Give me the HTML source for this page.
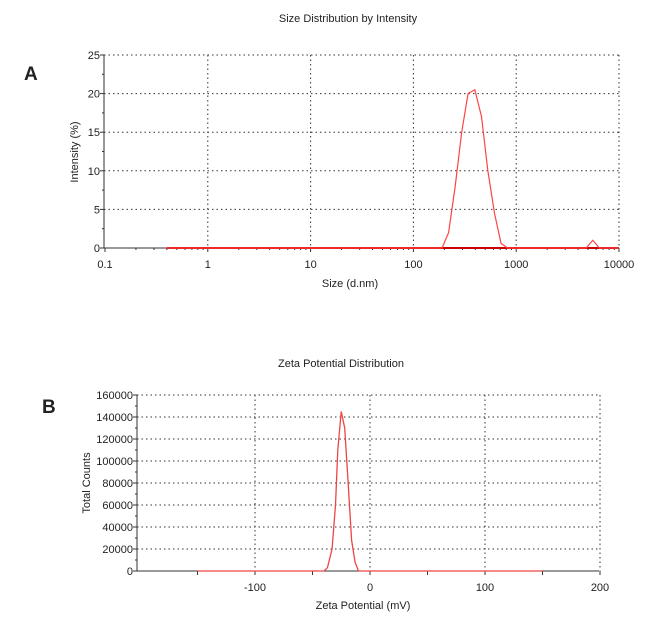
<!DOCTYPE html>
<html><head><meta charset="utf-8"><style>
body{margin:0;background:#fff;}
svg text{font-family:"Liberation Sans",Arial,sans-serif;fill:#222;}
</style></head><body>
<svg id="s" width="669" height="622" xmlns="http://www.w3.org/2000/svg">
<text x="348" y="22" font-size="11" text-anchor="middle">Size Distribution by Intensity</text>
<text x="24" y="80" font-size="19" font-weight="bold">A</text>
<text x="341" y="367" font-size="11" text-anchor="middle">Zeta Potential Distribution</text>
<text x="42" y="413" font-size="19" font-weight="bold">B</text>
<g id="ga"></g><g id="gb"></g>
</svg>
<script>
const aX=[0.4,190,220,255,295,340,396,460,530,615,712,825,4800,5560,6440,10000];
const aY=[0,0,2,8,15,20,20.5,17,10,4.5,0.6,0,0,1,0,0];
const aYTicks=[0,5,10,15,20,25];
const aXTicks=[0.1,1,10,100,1000,10000];
const bX=[-150,-40,-37,-33,-30,-28,-25,-22,-19,-16,-13,-10,150];
const bY=[0,0,3000,20000,60000,110000,145000,130000,80000,28000,8000,0,0];
const bYTicks=[0,20000,40000,60000,80000,100000,120000,140000,160000];
const bXTicks=[-100,0,100,200];
const NS="http://www.w3.org/2000/svg";
function mk(p,t,a){const e=document.createElementNS(NS,t);for(const k in a)e.setAttribute(k,a[k]);p.appendChild(e);return e;}
// Chart A
const ga=document.getElementById('ga');
const axL=104,axR=619,ayT=55,ayB=248;
const xa=v=>105+(Math.log10(v)+1)*102.8;
const ya=v=>ayB-(v/25)*(ayB-ayT);
aYTicks.forEach(v=>{
 if(v>0){const g=mk(ga,'line',{x1:axL,x2:axR,y1:ya(v),y2:ya(v),stroke:'#333','stroke-dasharray':'1.5,3','stroke-width':1});}
 const t=mk(ga,'text',{x:axL-4,y:ya(v)+4,'font-size':11,'text-anchor':'end'});t.textContent=v;
 
 mk(ga,'line',{x1:axL-4,x2:axL,y1:ya(v),y2:ya(v),stroke:'#333'});
 if(v<25)mk(ga,'line',{x1:axL-2,x2:axL,y1:ya(v+2.5),y2:ya(v+2.5),stroke:'#333'});
});
aXTicks.forEach((v,i)=>{
 if(i>0){const g=mk(ga,'line',{x1:xa(v),x2:xa(v),y1:ayT,y2:ayB,stroke:'#333','stroke-dasharray':'1.5,3'});}
 const t=mk(ga,'text',{x:xa(v),y:ayB+20,'font-size':11,'text-anchor':'middle'});t.textContent=v;
 
 mk(ga,'line',{x1:xa(v),x2:xa(v),y1:ayB,y2:ayB+4,stroke:'#333'});
 if(i<aXTicks.length-1)for(let m=2;m<10;m++)mk(ga,'line',{x1:xa(v*m),x2:xa(v*m),y1:ayB,y2:ayB+2,stroke:'#333'});
});
mk(ga,'line',{x1:axL,x2:axL,y1:ayT,y2:ayB,stroke:'#333'});
mk(ga,'line',{x1:axL,x2:axR,y1:ayB,y2:ayB,stroke:'#333'});
let t=mk(ga,'text',{x:350,y:287,'font-size':11,'text-anchor':'middle'});t.textContent='Size (d.nm)';

t=mk(ga,'text',{x:78,y:152,'font-size':11,'text-anchor':'middle',transform:'rotate(-90 78 152)'});t.textContent='Intensity (%)';

mk(ga,'line',{x1:xa(aX[0]),x2:xa(10000),y1:ayB,y2:ayB,stroke:'#c00','stroke-width':2});
const pa=mk(ga,'polyline',{points:aX.map((x,i)=>xa(x)+','+ya(aY[i])).join(' '),fill:'none',stroke:'#f44','stroke-width':1.2});

// Chart B
const gb=document.getElementById('gb');
const bL=137,bR=599,bT=395,bB=571;
const xb=v=>370+v*1.15;
const yb=v=>bB-(v/160000)*(bB-bT);
bYTicks.forEach(v=>{
 if(v>0){const g=mk(gb,'line',{x1:bL,x2:bR,y1:yb(v),y2:yb(v),stroke:'#333','stroke-dasharray':'1.5,3'});}
 const t=mk(gb,'text',{x:bL-4,y:yb(v)+4,'font-size':11,'text-anchor':'end'});t.textContent=v;
 
 mk(gb,'line',{x1:bL-4,x2:bL,y1:yb(v),y2:yb(v),stroke:'#333'});
 if(v<160000)mk(gb,'line',{x1:bL-2,x2:bL,y1:yb(v+10000),y2:yb(v+10000),stroke:'#333'});
});
bXTicks.forEach(v=>{
 if(v<200||true){const g=mk(gb,'line',{x1:xb(v),x2:xb(v),y1:bT,y2:bB,stroke:'#333','stroke-dasharray':'1.5,3'});}
 const t=mk(gb,'text',{x:xb(v),y:bB+20,'font-size':11,'text-anchor':'middle'});t.textContent=v;
 
});
for(let v=-150;v<=200;v+=50)mk(gb,'line',{x1:xb(v),x2:xb(v),y1:bB,y2:bB+4,stroke:'#333'});
mk(gb,'line',{x1:bL,x2:bL,y1:bT,y2:bB,stroke:'#333'});
mk(gb,'line',{x1:bL,x2:bR,y1:bB,y2:bB,stroke:'#333'});
t=mk(gb,'text',{x:363,y:609,'font-size':11,'text-anchor':'middle'});t.textContent='Zeta Potential (mV)';

t=mk(gb,'text',{x:90,y:483,'font-size':11,'text-anchor':'middle',transform:'rotate(-90 90 483)'});t.textContent='Total Counts';

const pb=mk(gb,'polyline',{points:bX.map((x,i)=>xb(x)+','+yb(bY[i])).join(' '),fill:'none',stroke:'#e44','stroke-width':1.3});

</script>
</body></html>
